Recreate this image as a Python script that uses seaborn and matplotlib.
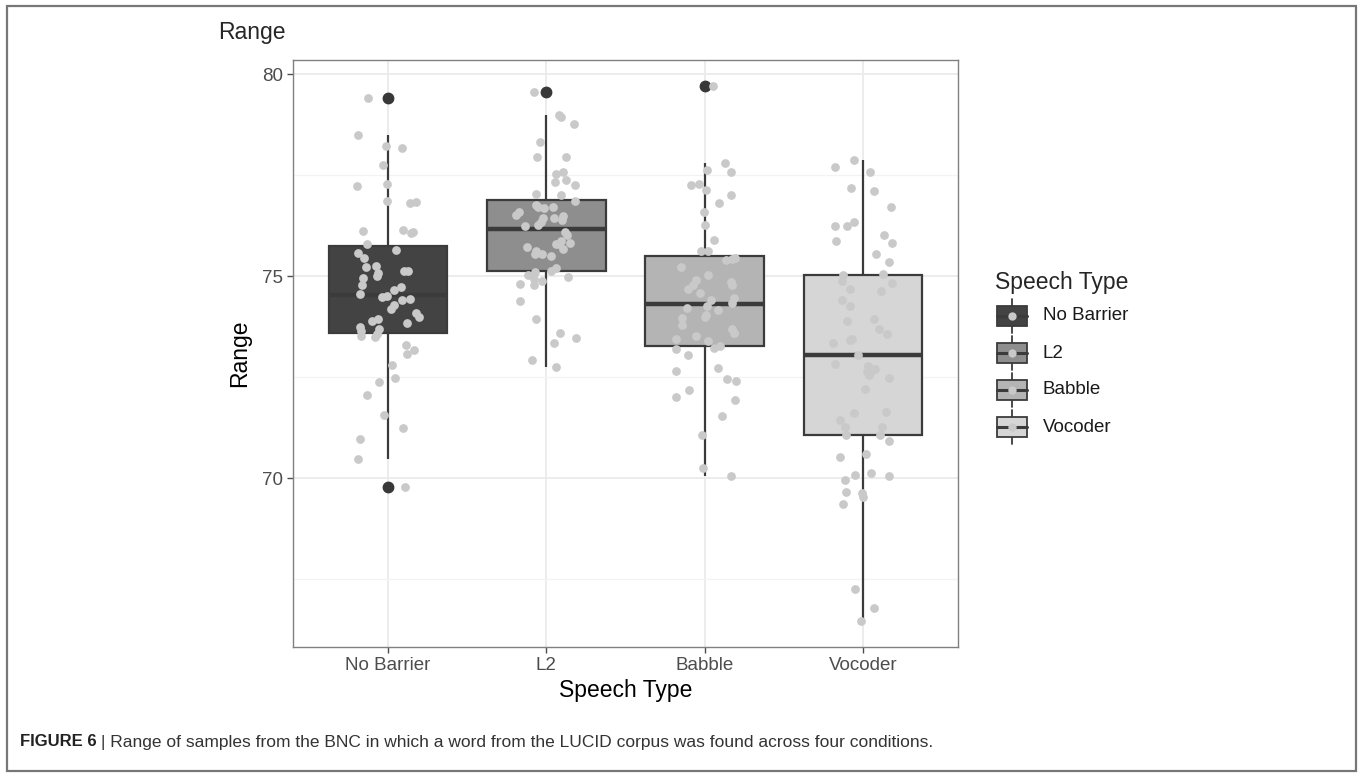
import numpy as np
import pandas as pd
import matplotlib
matplotlib.use("Agg")
import matplotlib.pyplot as plt
import seaborn as sns
from matplotlib.patches import Rectangle
from matplotlib.lines import Line2D
from matplotlib.ticker import MultipleLocator

# values (one entry per word)
conditions = ["No Barrier", "L2", "Babble", "Vocoder"]

no_barrier = [79.41, 78.50, 78.21, 78.17, 77.76, 77.28, 77.22, 76.87, 76.83, 76.80,
              76.13, 76.12, 76.10, 76.08, 75.79, 75.65, 75.57, 75.45, 75.26, 75.22,
              75.12, 75.12, 75.07, 75.00, 74.95, 74.79, 74.73, 74.66, 74.55, 74.50,
              74.48, 74.43, 74.40, 74.28, 74.18, 74.08, 74.00, 73.94, 73.88, 73.84,
              73.74, 73.70, 73.65, 73.56, 73.53, 73.50, 73.30, 73.18, 73.08, 72.80,
              72.49, 72.38, 72.05, 71.56, 71.24, 70.97, 70.47, 69.77]

l2 = [79.57, 78.99, 78.95, 78.76, 78.32, 77.96, 77.95, 77.57, 77.52, 77.38,
      77.33, 77.26, 77.04, 77.01, 76.85, 76.77, 76.72, 76.72, 76.69, 76.58,
      76.52, 76.50, 76.45, 76.44, 76.39, 76.34, 76.27, 76.23, 76.09, 76.02,
      75.88, 75.82, 75.79, 75.79, 75.71, 75.67, 75.61, 75.55, 75.55, 75.50,
      75.21, 75.12, 75.10, 75.03, 74.98, 74.94, 74.88, 74.80, 74.77, 74.39,
      73.94, 73.59, 73.47, 73.34, 72.93, 72.74]

babble = [79.71, 77.81, 77.63, 77.59, 77.29, 77.25, 77.12, 77.00, 76.81, 76.58,
          76.27, 75.90, 75.63, 75.61, 75.45, 75.42, 75.39, 75.22, 75.04, 74.91,
          74.85, 74.79, 74.77, 74.68, 74.58, 74.46, 74.41, 74.33, 74.27, 74.20,
          74.17, 74.05, 74.00, 73.96, 73.80, 73.70, 73.59, 73.59, 73.51, 73.45,
          73.40, 73.28, 73.22, 73.19, 73.04, 72.72, 72.64, 72.45, 72.41, 72.17,
          72.00, 71.94, 71.53, 71.07, 70.25, 70.06]

vocoder = [77.88, 77.70, 77.58, 77.19, 77.11, 76.70, 76.33, 76.23, 76.23, 76.01,
           75.87, 75.83, 75.54, 75.34, 75.05, 75.03, 74.88, 74.83, 74.69, 74.64,
           74.41, 74.27, 73.94, 73.88, 73.70, 73.57, 73.44, 73.42, 73.34, 73.05,
           72.83, 72.78, 72.70, 72.62, 72.60, 72.56, 72.49, 72.20, 71.63, 71.61,
           71.44, 71.26, 71.26, 71.07, 71.06, 70.91, 70.60, 70.53, 70.12, 70.08,
           70.06, 69.96, 69.65, 69.63, 69.53, 69.36, 67.25, 66.78, 66.47]

y_ticks = [70, 75, 80]

box_colors = ["#434343", "#8e8e8e", "#b4b4b4", "#d6d6d6"]
point_color = "#c9c9c9"
line_color = "#3b3b3b"

groups = [no_barrier, l2, babble, vocoder]
df = pd.DataFrame({
    "Speech Type": np.repeat(conditions, [len(g) for g in groups]),
    "Range": np.concatenate(groups),
})

sns.set_theme(style="white")
plt.rcParams["font.family"] = ["Liberation Sans", "DejaVu Sans"]

W, H = 1363, 777
fig = plt.figure(figsize=(W / 100, H / 100), dpi=100)
ax = fig.add_axes([293 / W, 1 - 647 / H, (958 - 293) / W, (647 - 60) / H])

# boxes (outliers drawn dark, like geom_boxplot)
sns.boxplot(data=df, x="Speech Type", y="Range", hue="Speech Type",
            order=conditions, hue_order=conditions, palette=box_colors,
            saturation=1, width=0.75, dodge=False, legend=False,
            linecolor=line_color, linewidth=1.6, showcaps=False,
            flierprops=dict(marker="o", markerfacecolor="#383838",
                            markeredgecolor="#383838", markersize=7.5),
            medianprops=dict(color=line_color, linewidth=3.2),
            ax=ax, zorder=2)

# jittered raw points on top
np.random.seed(11)
sns.stripplot(data=df, x="Speech Type", y="Range", order=conditions,
              color=point_color, jitter=0.2, size=6.3, linewidth=0,
              ax=ax, zorder=3)

ax.set_xlim(-0.6, 3.6)
ax.set_ylim(65.82, 80.35)
ax.set_yticks(y_ticks)
ax.yaxis.set_minor_locator(MultipleLocator(2.5))
ax.set_axisbelow(True)
ax.grid(which="major", color="#ebebeb", linewidth=1.3)
ax.grid(which="minor", axis="y", color="#f3f3f3", linewidth=0.9)
ax.tick_params(which="minor", length=0)
ax.tick_params(which="major", length=4, width=1, color="#4d4d4d",
               labelsize=13.5, labelcolor="#4d4d4d", pad=3,
               bottom=True, left=True)
for s in ax.spines.values():
    s.set_color("#808080")
    s.set_linewidth(1.0)

ax.set_xlabel("Speech Type", fontsize=16.5, color="black", labelpad=4)
ax.set_ylabel("Range", fontsize=16.5, color="black", labelpad=8)

fig.text(218 / W, 1 - 33 / H, "Range", fontsize=16.5, va="center", ha="left")

# legend drawn in a pixel overlay
ov = fig.add_axes([0, 0, 1, 1], zorder=5)
ov.set_xlim(0, W)
ov.set_ylim(H, 0)
ov.axis("off")
ov.patch.set_alpha(0)

ov.text(995, 283, "Speech Type", fontsize=16.5, va="center", ha="left")
for i, (name, col) in enumerate(zip(conditions, box_colors)):
    cy = 316 + 37 * i
    ov.add_line(Line2D([1012, 1012], [cy - 17, cy + 17], color=line_color, lw=1.3))
    ov.add_patch(Rectangle((997, cy - 10), 30, 20, facecolor=col,
                           edgecolor=line_color, lw=1.3, zorder=3))
    ov.add_line(Line2D([997, 1027], [cy, cy], color=line_color, lw=2.2, zorder=4))
    ov.plot([1012], [cy], "o", color=point_color, ms=6, mew=0, zorder=5)
    ov.text(1043, cy, name, fontsize=13.5, va="center", ha="left", color="#1a1a1a")

# outer frame and caption
ov.add_patch(Rectangle((7, 6), 1349, 765, fill=False, edgecolor="#777777", lw=1.6))
cap_fam = ["Liberation Sans Narrow", "Liberation Sans"]
t1 = ov.text(20, 742, "FIGURE 6", fontsize=12, fontweight="bold",
             va="center", ha="left", color="#222222", family=cap_fam)
fig.canvas.draw()
bb = t1.get_window_extent()
x_next = bb.x1 + 4
ov.text(x_next, 742, "| Range of samples from the BNC in which a word from the LUCID corpus was found across four conditions.",
        fontsize=12.5, va="center", ha="left", color="#333333", family=cap_fam)

fig.savefig("out.png", dpi=100)
